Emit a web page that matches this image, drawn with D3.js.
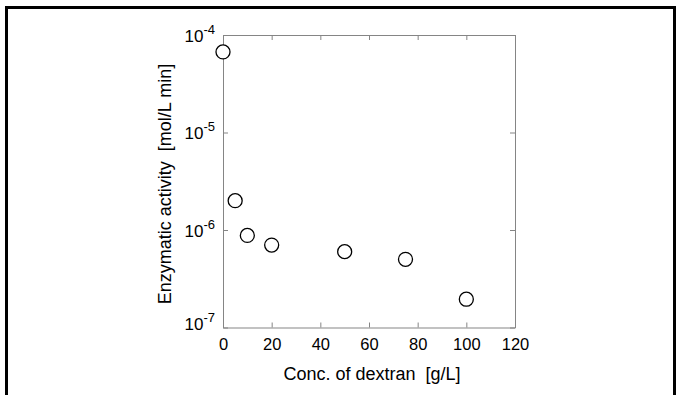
<!DOCTYPE html>
<html>
<head>
<meta charset="utf-8">
<script src="https://cdn.jsdelivr.net/npm/d3@7"></script>
<style>
  body { margin: 0; background: #fff; }
  svg { display: block; font-family: "Liberation Sans", Arial, sans-serif; }
</style>
</head>
<body>
<div id="chart"></div>
<script>
// values
const conc = [0, 5, 10, 20, 50, 75, 100];
const activity = [6.7e-5, 2.0e-6, 8.8e-7, 7.0e-7, 6.0e-7, 5.0e-7, 1.95e-7];
const xTicks = [0, 20, 40, 60, 80, 100, 120];
const yTicks = [1e-7, 1e-6, 1e-5, 1e-4];
const yExp = ["-7", "-6", "-5", "-4"];

const width = 679, height = 395;
const margin = { top: 35, left: 223, right: 164, bottom: 67.5 };
const innerW = width - margin.left - margin.right;
const innerH = height - margin.top - margin.bottom;
const axisColor = "#858585";

const svg = d3.select("#chart").append("svg")
  .attr("width", width)
  .attr("height", height);

// outer figure border (bottom edge falls outside the picture)
svg.append("rect")
  .attr("x", 6.5).attr("y", 7.5)
  .attr("width", 668).attr("height", 400)
  .attr("fill", "none")
  .attr("stroke", "#000")
  .attr("stroke-width", 3);

const g = svg.append("g")
  .attr("transform", `translate(${margin.left},${margin.top})`);

const x = d3.scaleLinear().domain([0, 120]).range([0, innerW]);
const y = d3.scaleLog().domain([1e-7, 1e-4]).range([innerH, 0]);

function styleAxis(sel) {
  sel.selectAll("path.domain").attr("stroke", axisColor);
  sel.selectAll(".tick line").attr("stroke", axisColor);
  sel.selectAll(".tick text").attr("fill", "#000").attr("font-size", 16.5)
    .attr("font-family", "Liberation Sans, Arial, sans-serif");
}

// bottom axis, inward ticks
const xAxis = g.append("g")
  .attr("transform", `translate(0,${innerH})`)
  .call(d3.axisBottom(x).tickValues(xTicks).tickSizeInner(-5).tickSizeOuter(0).tickPadding(11));
styleAxis(xAxis);

// top axis (ticks only)
const xTop = g.append("g")
  .call(d3.axisTop(x).tickValues(xTicks).tickSizeInner(-5).tickSizeOuter(0).tickFormat(""));
styleAxis(xTop);

// left axis with 10^n labels
const yAxis = g.append("g")
  .call(d3.axisLeft(y).tickValues(yTicks).tickSizeInner(-5).tickSizeOuter(0).tickFormat(""));
styleAxis(yAxis);
yAxis.selectAll(".tick text").remove();
yAxis.selectAll(".tick").each(function (d, i) {
  const shift = i === 0 ? -4 : 0;
  const t = d3.select(this).append("text")
    .attr("fill", "#000")
    .attr("text-anchor", "end")
    .attr("x", -8)
    .attr("y", 6 + shift)
    .attr("font-size", 17);
  t.append("tspan").text("10");
  t.append("tspan").attr("font-size", 13).attr("dy", -8).text(yExp[i]);
});

// right axis (ticks only)
const yRight = g.append("g")
  .attr("transform", `translate(${innerW},0)`)
  .call(d3.axisRight(y).tickValues(yTicks).tickSizeInner(-5).tickSizeOuter(0).tickFormat(""));
styleAxis(yRight);

// data points
g.selectAll(".pt")
  .data(conc.map((c, i) => ({ c, v: activity[i] })))
  .enter()
  .append("circle")
  .attr("class", "pt")
  .attr("cx", d => x(d.c))
  .attr("cy", d => y(d.v))
  .attr("r", 7)
  .attr("fill", "#fff")
  .attr("stroke", "#000")
  .attr("stroke-width", 1.3);

// axis titles
svg.append("text")
  .attr("x", 372)
  .attr("y", 380)
  .attr("text-anchor", "middle")
  .attr("font-size", 18)
  .attr("fill", "#000")
  .attr("xml:space", "preserve")
  .text("Conc. of dextran  [g/L]");

svg.append("text")
  .attr("transform", "translate(171,184) rotate(-90)")
  .attr("text-anchor", "middle")
  .attr("font-size", 18)
  .attr("fill", "#000")
  .attr("xml:space", "preserve")
  .text("Enzymatic activity  [mol/L min]");
</script>
</body>
</html>
